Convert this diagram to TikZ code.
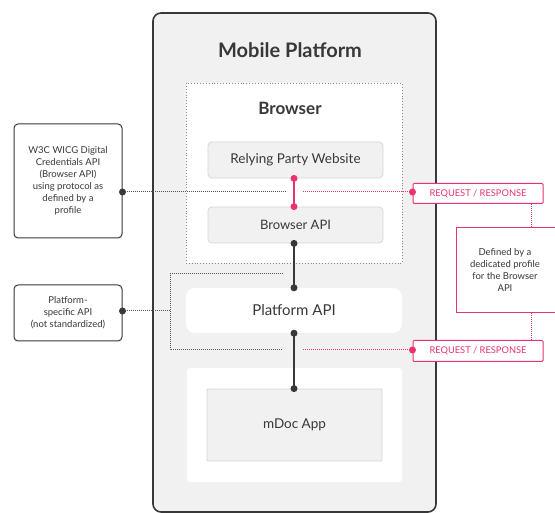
\documentclass[tikz,border=0pt]{standalone}
\usepackage{fontspec}
\setmainfont{Lato}
\definecolor{pinkline}{HTML}{E8336D}
\definecolor{darkline}{HTML}{383838}
\definecolor{panelgray}{HTML}{F1F1F1}
\definecolor{boxedge}{HTML}{D6D6D6}
\tikzset{
  platbox/.style={draw=darkline, line width=1.6pt, fill=panelgray, rounded corners=8pt},
  itembox/.style={draw=boxedge, line width=0.8pt, fill=panelgray, rounded corners=4pt},
  notebox/.style={draw=darkline, line width=1pt, fill=white, rounded corners=4pt, align=center, font=\fontsize{9.5}{12}\selectfont, text=darkline},
  reqbox/.style={draw=pinkline, line width=1pt, fill=white, rounded corners=1pt, text=pinkline, font=\fontsize{9.3}{10}\selectfont},
  graylink/.style={draw=darkline!85, line width=1pt, densely dotted},
  pinklink/.style={draw=pinkline, line width=1pt, densely dotted},
  dot/.style={circle, fill=#1, inner sep=0pt, minimum size=7pt}
}
\begin{document}
\begin{tikzpicture}[x=1pt,y=-1pt]
        \clip(0,0)rectangle(555,513);
        \fill[white](0,0)rectangle(555,513);

        % mobile platform
        \draw[platbox](153,13)rectangle(436,512);
        \node[font=\fontsize{20}{24}\selectfont\bfseries, text=darkline](mobile)at(290,50){Mobile Platform};

        % browser
        \draw[fill=white, draw=darkline!60, line width=0.9pt, dotted](186,83)rectangle(402,263);
        \node[font=\fontsize{17}{20}\selectfont\bfseries, text=darkline](browser)at(290,108){Browser};
        \node[itembox, minimum width=175pt, minimum height=36pt, font=\fontsize{13.5}{16}\selectfont, text=darkline](rp)at(295.5,160){Relying Party Website};
        \node[itembox, minimum width=175pt, minimum height=36pt, font=\fontsize{13}{16}\selectfont, text=darkline](bapi)at(295.5,225){Browser API};

        % platform api
        \draw[graylink](283,274)--(170,274)--(170,350)--(283,350);
        \node[fill=white, rounded corners=9pt, minimum width=216pt, minimum height=45pt, font=\fontsize{15}{18}\selectfont, text=darkline](papi)at(294,310.5){Platform API};

        % mdoc
        \fill[white, rounded corners=3pt](187,368)rectangle(402,482);
        \node[itembox, rounded corners=1pt, minimum width=175pt, minimum height=72pt, font=\fontsize{13.5}{16}\selectfont, text=darkline](mdoc)at(294.5,425){mDoc App};

        % notes on the left
        \node[notebox, minimum width=108pt, minimum height=114pt](w3c)at(68,181){W3C WICG Digital\\Credentials API\\(Browser API)\\using protocol as\\defined by a\\profile};
        \node[notebox, minimum width=108pt, minimum height=56pt](pspec)at(68,313){Platform-\\specific API\\(not standardized)};

        % request / response and profile
        \node[reqbox, minimum width=130pt, minimum height=20pt](req1)at(478,193.5){REQUEST / RESPONSE};
        \node[reqbox, minimum width=130pt, minimum height=21pt](req2)at(478,351){REQUEST / RESPONSE};
        \node[draw=pinkline, line width=1pt, fill=white, align=center, minimum width=110pt, minimum height=85pt, text=darkline, font=\fontsize{9.5}{12}\selectfont](profile)at(511,270.5){\hspace*{-12pt}Defined by a\\\hspace*{-12pt}dedicated profile\\\hspace*{-12pt}for the Browser\\\hspace*{-12pt}API};

        \coordinate(w3cend)at(285,192);
        \coordinate(pinkstart)at(303,192);
        \coordinate(pspecend)at(170,311);
        \coordinate(pinkstart2)at(303,350);

        % connectors
        \draw[graylink](w3c.east|-w3cend)--(w3cend);
        \draw[pinklink](pinkstart)--(req1.west|-pinkstart);
        \draw[pinklink](req1.south-|531,0)--(profile.north-|531,0);
        \draw[pinklink](profile.south-|531,0)--(req2.north-|531,0);
        \draw[pinklink](pinkstart2)--(req2.west|-pinkstart2);
        \draw[graylink](pspec.east|-pspecend)--(pspecend);

        \draw[pinkline, line width=2.4pt](rp.south-|294,0)--(bapi.north-|294,0);
        \draw[darkline, line width=2.4pt](bapi.south-|294,0)--(papi.north-|294,0);
        \draw[darkline, line width=2.4pt](papi.south-|294,0)--(mdoc.north-|294,0);

        \node[dot=pinkline]at(rp.south-|294,0){};
        \node[dot=pinkline]at(bapi.north-|294,0){};
        \node[dot=darkline]at(bapi.south-|294,0){};
        \node[dot=darkline]at(papi.north-|294,0){};
        \node[dot=darkline]at(papi.south-|294,0){};
        \node[dot=darkline]at(mdoc.north-|294,0){};
        \node[dot=darkline]at(w3c.east|-w3cend){};
        \node[dot=darkline]at(pspec.east|-pspecend){};
        \node[dot=pinkline]at(req1.west|-pinkstart){};
        \node[dot=pinkline]at(req2.west|-pinkstart2){};
    \end{tikzpicture}
\end{document}
